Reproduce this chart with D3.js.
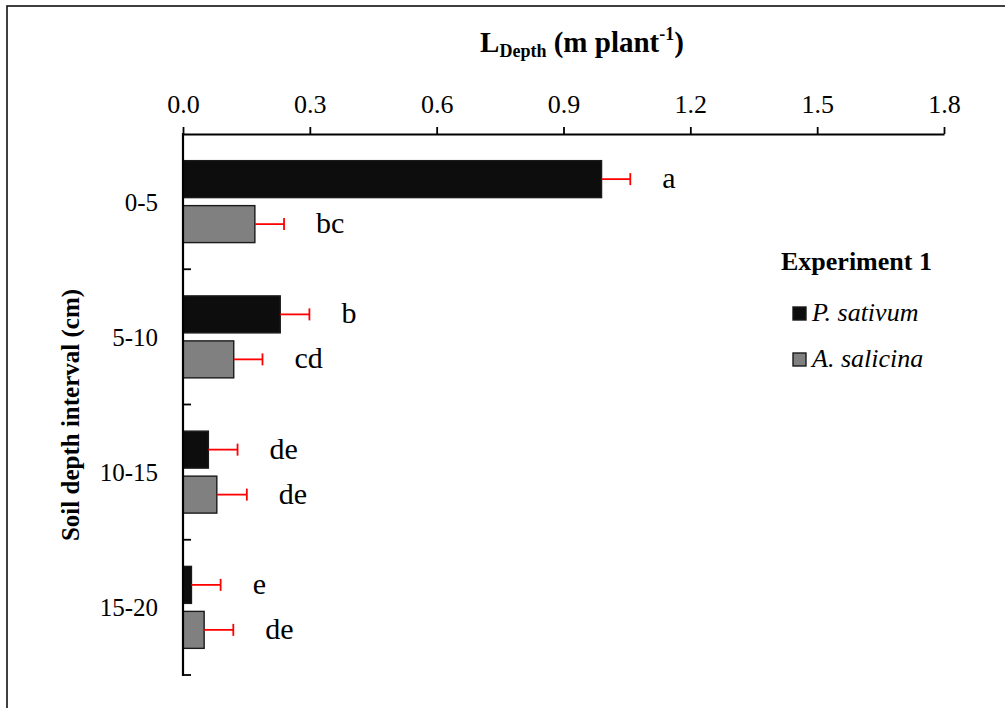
<!DOCTYPE html>
<html>
<head>
<meta charset="utf-8">
<script src="https://cdn.jsdelivr.net/npm/d3@7"></script>
<style>
  html, body { margin: 0; padding: 0; background: #fff; }
  svg { display: block; font-family: "Liberation Serif", "Times New Roman", serif; }
</style>
</head>
<body>
<svg id="chart" width="1005" height="708"></svg>
<script>
// Root length per soil depth interval (m plant^-1), Experiment 1
const depthIntervals = ["0-5", "5-10", "10-15", "15-20"];
const seriesNames = ["P. sativum", "A. salicina"];
const pSativum = [0.99, 0.23, 0.06, 0.02];
const aSalicina = [0.17, 0.12, 0.08, 0.05];
const pSativumErr = [0.068, 0.069, 0.069, 0.069];
const aSalicinaErr = [0.069, 0.068, 0.071, 0.069];
const pSativumLetters = ["a", "b", "de", "e"];
const aSalicinaLetters = ["bc", "cd", "de", "de"];
const xTicks = [0, 0.3, 0.6, 0.9, 1.2, 1.5, 1.8];

const seriesValues = [pSativum, aSalicina];
const seriesErrs = [pSativumErr, aSalicinaErr];
const seriesLetters = [pSativumLetters, aSalicinaLetters];
const seriesFill = ["#0d0d0d", "#808080"];

const svg = d3.select("#chart");

// frame around the figure
svg.append("rect")
  .attr("x", 7).attr("y", 6).attr("width", 1010).attr("height", 720)
  .attr("fill", "none").attr("stroke", "#111").attr("stroke-width", 1.6);

const plotLeft = 183, plotRight = 944, plotTop = 134, plotBottom = 675;

const x = d3.scaleLinear().domain([0, 1.8]).range([plotLeft, plotRight]);
const y0 = d3.scaleBand().domain(depthIntervals).range([plotTop, plotBottom]).padding(0);
const groupPad = y0.bandwidth() * 0.197;
const y1 = d3.scaleBand().domain(seriesNames)
  .range([groupPad, y0.bandwidth() - groupPad]).paddingInner(0.178);

// build flat records
const records = [];
depthIntervals.forEach((d, i) => {
  seriesNames.forEach((s, j) => {
    records.push({ depth: d, series: s, si: j,
      value: seriesValues[j][i], err: seriesErrs[j][i], letter: seriesLetters[j][i] });
  });
});

// bars
svg.append("g").selectAll("rect")
  .data(records).join("rect")
  .attr("x", x(0))
  .attr("y", d => y0(d.depth) + y1(d.series))
  .attr("width", d => x(d.value) - x(0))
  .attr("height", y1.bandwidth())
  .attr("fill", d => seriesFill[d.si])
  .attr("stroke", "#1a1a1a")
  .attr("stroke-width", 1.4);

// error bars (positive side only)
const eg = svg.append("g").attr("stroke", "#ff0000").attr("stroke-width", 1.8);
records.forEach(d => {
  const cy = y0(d.depth) + y1(d.series) + y1.bandwidth() / 2;
  const x1 = x(d.value), x2 = x(d.value + d.err);
  eg.append("line").attr("x1", x1).attr("x2", x2).attr("y1", cy).attr("y2", cy);
  eg.append("line").attr("x1", x2).attr("x2", x2).attr("y1", cy - 6).attr("y2", cy + 6);
});

// significance letters
svg.append("g").selectAll("text")
  .data(records).join("text")
  .attr("x", d => x(d.value + d.err) + 32)
  .attr("y", d => y0(d.depth) + y1(d.series) + y1.bandwidth() / 2 + 9)
  .attr("font-size", 30)
  .attr("fill", "#000")
  .text(d => d.letter);

// top x axis
const xAxis = d3.axisTop(x).tickValues(xTicks).tickFormat(d3.format(".1f"))
  .tickSize(7).tickSizeOuter(0).tickPadding(14);
const gx = svg.append("g").attr("transform", `translate(0,${plotTop})`).call(xAxis);
gx.attr("font-family", null);
gx.select(".domain").attr("stroke", "#000").attr("stroke-width", 2.2);
gx.selectAll(".tick line").attr("stroke", "#000").attr("stroke-width", 1.8);
gx.selectAll(".tick text").attr("font-size", 26).attr("fill", "#000");

// left y axis: line, inward ticks at interval boundaries, category labels
const gy = svg.append("g");
gy.append("line").attr("x1", plotLeft).attr("x2", plotLeft).attr("y1", plotTop - 1).attr("y2", plotBottom + 1)
  .attr("stroke", "#000").attr("stroke-width", 2.2);
gy.selectAll("line.bt")
  .data(depthIntervals).join("line").attr("class", "bt")
  .attr("x1", plotLeft).attr("x2", plotLeft + 8)
  .attr("y1", d => y0(d) + y0.bandwidth())
  .attr("y2", d => y0(d) + y0.bandwidth())
  .attr("stroke", "#000").attr("stroke-width", 1.8);
gy.selectAll("text")
  .data(depthIntervals).join("text")
  .attr("x", plotLeft - 25)
  .attr("y", d => y0(d) + y0.bandwidth() / 2 + 9)
  .attr("text-anchor", "end")
  .attr("font-size", 25)
  .text(d => d);

// axis titles
const title = svg.append("text")
  .attr("x", 582).attr("y", 52).attr("text-anchor", "middle")
  .attr("font-size", 29).attr("font-weight", "bold");
title.append("tspan").text("L");
title.append("tspan").attr("font-size", 18).attr("dy", 5).text("Depth");
title.append("tspan").attr("dy", -5).text(" (m plant");
title.append("tspan").attr("font-size", 18).attr("dy", -12).text("-1");
title.append("tspan").attr("dy", 12).text(")");

svg.append("text")
  .attr("transform", "translate(79,415) rotate(-90)")
  .attr("text-anchor", "middle")
  .attr("font-size", 25).attr("font-weight", "bold")
  .text("Soil depth interval (cm)");

// legend
const lg = svg.append("g");
lg.append("text").attr("x", 781).attr("y", 270)
  .attr("font-size", 26).attr("font-weight", "bold").text("Experiment 1");
const legendRows = lg.selectAll("g.item").data(seriesNames).join("g").attr("class", "item")
  .attr("transform", (d, i) => `translate(793,${307 + i * 46})`);
legendRows.append("rect")
  .attr("width", 13).attr("height", 13)
  .attr("fill", (d, i) => seriesFill[i])
  .attr("stroke", "#1a1a1a").attr("stroke-width", 1.4);
legendRows.append("text")
  .attr("x", 19).attr("y", 14)
  .attr("font-size", 26).attr("font-style", "italic")
  .text(d => d);
</script>
</body>
</html>
